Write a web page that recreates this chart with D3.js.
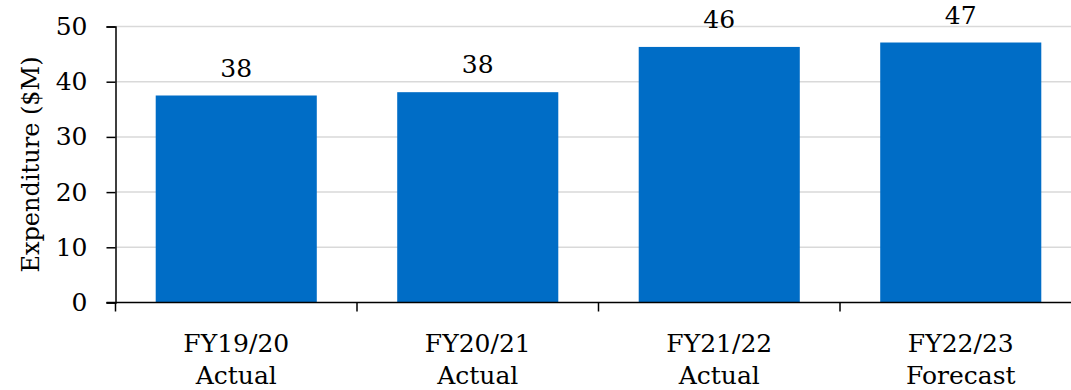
<!DOCTYPE html>
<html>
<head>
<meta charset="utf-8">
<script src="https://cdn.jsdelivr.net/npm/d3@7"></script>
<style>
  html, body { margin: 0; padding: 0; background: #fff; }
  svg text { font-family: "DejaVu Serif", serif; fill: #000; }
</style>
</head>
<body>
<svg id="chart" width="1071" height="390"></svg>
<script>
// Annual expenditure, $M
const years = ["FY19/20", "FY20/21", "FY21/22", "FY22/23"];
const status = ["Actual", "Actual", "Actual", "Forecast"];
const expenditure = [37.5, 38.1, 46.3, 47.1];
const labels = ["38", "38", "46", "47"];
const yTicks = [0, 10, 20, 30, 40, 50];

const svg = d3.select("#chart");
const margin = { left: 115.5, right: -10.5, top: 26.5, bottom: 87.5 };
const W = 1071, H = 390;
const FS = "25px";

const x = d3.scaleBand()
  .domain(years)
  .range([margin.left, W - margin.right])
  .paddingInner(0.333)
  .paddingOuter(0.1665);

const y = d3.scaleLinear()
  .domain([0, 50])
  .range([H - margin.bottom, margin.top]);

// gridlines
svg.append("g")
  .selectAll("line")
  .data(yTicks.filter(d => d > 0))
  .join("line")
  .attr("x1", margin.left)
  .attr("x2", W)
  .attr("y1", d => y(d))
  .attr("y2", d => y(d))
  .attr("stroke", "#d9d9d9")
  .attr("stroke-width", 1.5);

// bars
svg.append("g")
  .selectAll("rect")
  .data(expenditure)
  .join("rect")
  .attr("x", (d, i) => x(years[i]))
  .attr("width", x.bandwidth())
  .attr("y", d => y(d))
  .attr("height", d => y(0) - y(d))
  .attr("fill", "#006dc6");

// value labels
svg.append("g")
  .selectAll("text")
  .data(expenditure)
  .join("text")
  .attr("x", (d, i) => x(years[i]) + x.bandwidth() / 2)
  .attr("y", d => y(d) - 19)
  .attr("text-anchor", "middle")
  .style("font-size", FS)
  .text((d, i) => labels[i]);

// y axis
const yAxis = svg.append("g")
  .attr("transform", `translate(${margin.left},0)`)
  .call(d3.axisLeft(y).tickValues(yTicks).tickSize(9).tickPadding(19));
yAxis.select(".domain").attr("stroke", "#000").attr("stroke-width", 1.5);
yAxis.selectAll(".tick line").attr("stroke", "#000").attr("stroke-width", 1.5);
yAxis.selectAll(".tick text").style("font-size", FS).style("font-family", "DejaVu Serif, serif");

// x axis: ticks at band boundaries
const xAxisG = svg.append("g");
xAxisG.append("line")
  .attr("x1", margin.left - 9).attr("x2", W)
  .attr("y1", y(0)).attr("y2", y(0))
  .attr("stroke", "#000").attr("stroke-width", 1.5);
const step = x.step();
xAxisG.selectAll("line.sep")
  .data(years)
  .join("line")
  .attr("class", "sep")
  .attr("x1", (d, i) => margin.left + i * step)
  .attr("x2", (d, i) => margin.left + i * step)
  .attr("y1", y(0))
  .attr("y2", y(0) + 9)
  .attr("stroke", "#000").attr("stroke-width", 1.5);

const cat = svg.append("g")
  .selectAll("text")
  .data(years)
  .join("text")
  .attr("text-anchor", "middle")
  .style("font-size", FS);
cat.append("tspan").attr("x", d => x(d) + x.bandwidth() / 2).attr("y", 352).text(d => d);
cat.append("tspan").attr("x", d => x(d) + x.bandwidth() / 2).attr("y", 384).text((d, i) => status[i]);

// y-axis title
svg.append("text")
  .attr("transform", `translate(39,${(y(0) + y(50)) / 2}) rotate(-90)`)
  .attr("text-anchor", "middle")
  .style("font-size", "24px")
  .text("Expenditure ($M)");
</script>
</body>
</html>
